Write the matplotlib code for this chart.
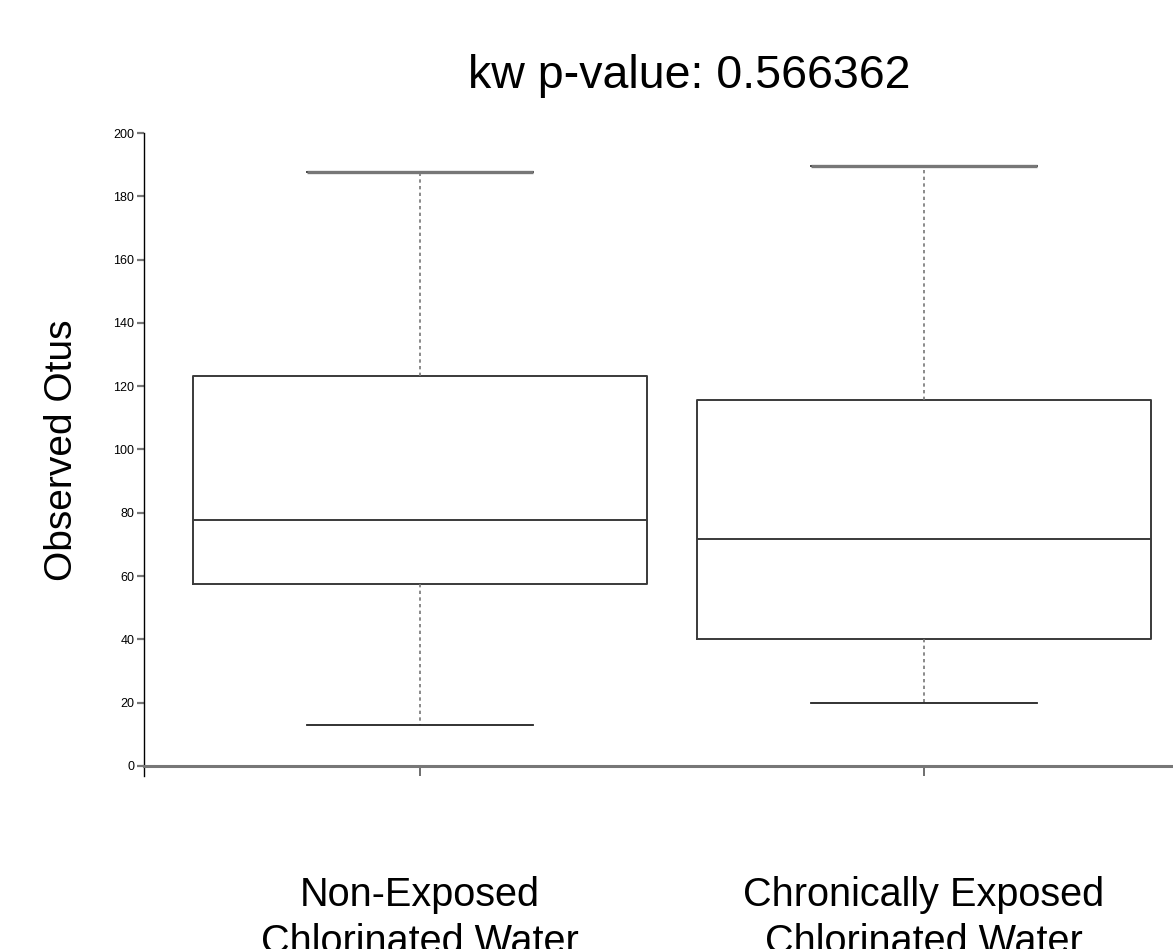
import matplotlib
matplotlib.use("Agg")
import matplotlib.pyplot as plt

plt.rcParams['font.family'] = ['Liberation Sans', 'DejaVu Sans']

groups = ["Non-Exposed\nChlorinated Water", "Chronically Exposed\nChlorinated Water"]
whislo = [13.0, 19.9]
q1 = [57.5, 40.1]
med = [77.7, 71.7]
q3 = [123.2, 115.6]
whishi = [187.7, 189.6]
yticks = [0, 20, 40, 60, 80, 100, 120, 140, 160, 180, 200]
title = "kw p-value: 0.566362"
ylabel = "Observed Otus"

W, H = 1173, 949
fig = plt.figure(figsize=(W / 100, H / 100), dpi=100)
ax_left, ax_right = 144 / W, 1.0
ax_top, ax_bottom = 1 - 133 / H, 1 - 776 / H
ax = fig.add_axes([ax_left, ax_bottom, ax_right - ax_left, ax_top - ax_bottom])

stats = []
for i in range(len(groups)):
    stats.append(dict(med=med[i], q1=q1[i], q3=q3[i], whislo=whislo[i], whishi=whishi[i], fliers=[]))

pos = [1, 2]
ax.bxp(stats, positions=pos, widths=0.9, showfliers=False,
       boxprops=dict(color='#3a3a3a', linewidth=1.4),
       medianprops=dict(color='#3a3a3a', linewidth=1.4),
       whiskerprops=dict(color='#777777', linewidth=1.2, linestyle=(0, (2, 2))),
       capprops=dict(color='#222222', linewidth=1.3),
       capwidths=0.45)
# top caps appear thicker gray
for i in range(len(groups)):
    ax.hlines(whishi[i], pos[i] - 0.225, pos[i] + 0.225, color='#777777', linewidth=2.4, zorder=3)

ax.set_xlim(1 - 276 / 504, 2 + 249 / 504)
ax.set_ylim(-3.2, 200)

for s in ['top', 'right']:
    ax.spines[s].set_visible(False)
ax.spines['left'].set_color('black')
ax.spines['left'].set_linewidth(1.0)
ax.spines['bottom'].set_position(('data', 0))
ax.spines['bottom'].set_color('#777777')
ax.spines['bottom'].set_linewidth(2.2)

ax.set_yticks(yticks)
ax.set_yticklabels([str(v) for v in yticks], family=['Liberation Sans Narrow', 'Liberation Sans', 'DejaVu Sans'], fontsize=9)
ax.tick_params(axis='y', length=5, width=1.6, color='#777777', pad=2)
ax.set_xticks(pos)
ax.set_xticklabels([])
ax.tick_params(axis='x', length=7.5, width=1.2, color='#555555')

for i, g in enumerate(groups):
    ax.text(pos[i], -34.7, g, ha='center', va='top', fontsize=28.5, linespacing=1.3)

fig.text(689.5 / W, 1 - 76 / H, title, ha='center', va='center', fontsize=33.5)
fig.text(62 / W, 1 - 450 / H, ylabel, ha='center', va='center', rotation=90, fontsize=28)

fig.savefig("out.png", dpi=100)
